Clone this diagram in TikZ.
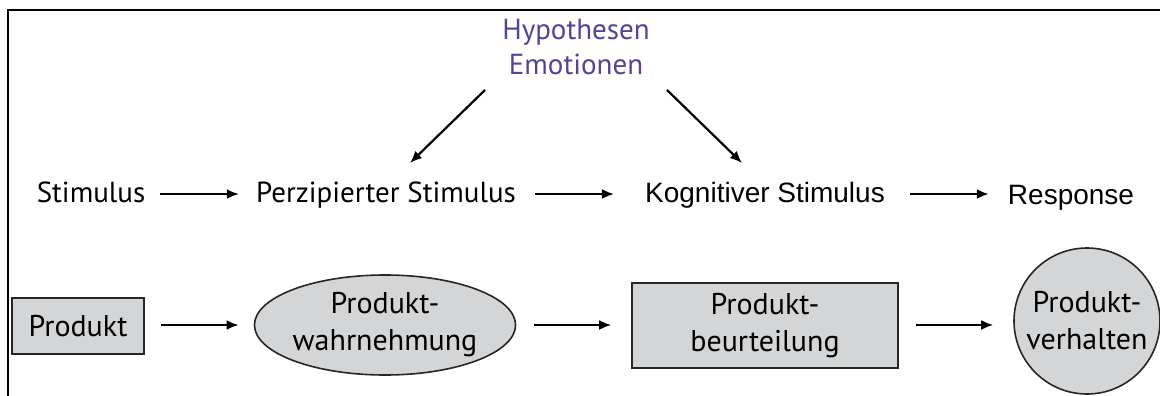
\documentclass[tikz,border=0pt]{standalone}
\usepackage{fontspec}
\setmainfont{PT Sans}
\newfontfamily\arialfont{Liberation Sans}
\usetikzlibrary{arrows.meta,shapes.geometric}
\definecolor{hypoviolet}{RGB}{78,70,150}
\definecolor{boxgray}{RGB}{212,213,215}
\begin{document}
\begin{tikzpicture}[x=1pt,y=-1pt,
  lbl/.style={inner sep=0pt,anchor=base,font=\fontsize{29}{34}\selectfont},
  lblarial/.style={lbl,font=\arialfont\fontsize{28}{34}\selectfont},
  arr/.style={line width=2.2pt,-{Latex[length=12pt,width=10pt]}},
  shp/.style={draw=black!85,line width=1.6pt,fill=boxgray,inner sep=0pt,
    align=center,font=\fontsize{30}{37}\selectfont}]
\useasboundingbox (0,0) rectangle (1160,396);
% frame
\draw[line width=1.5pt] (8,396) -- (8,10) -- (1160,10);
% row levels for the horizontal arrows
\coordinate (toprow) at (0,194);
\coordinate (botrow) at (0,325);
% influences
\node[lbl,text=hypoviolet] (hyp) at (576,40) {Hypothesen};
\node[lbl,text=hypoviolet] (emo) at (576,75) {Emotionen};
% top row: stimulus-response chain
\node[lbl] (stim) at (91,202) {Stimulus};
\node[lbl] (perz) at (386,202) {Perzipierter Stimulus};
\node[lblarial] (kog) at (765,202) {Kognitiver Stimulus};
\node[lblarial] (resp) at (1071,204) {Response};
\coordinate (hl) at (485,90);
\coordinate (hr) at (667,90);
\coordinate (pt) at (410,163);
\coordinate (kt) at (742,163);
\draw[arr] (hl) -- (pt);
\draw[arr] (hr) -- (kt);
\draw[arr] ([xshift=15pt]stim.east |- toprow) -- ([xshift=-17pt]perz.west |- toprow);
\draw[arr] ([xshift=19pt]perz.east |- toprow) -- ([xshift=-31pt]kog.west |- toprow);
\draw[arr] ([xshift=25pt]kog.east |- toprow) -- ([xshift=-19pt]resp.west |- toprow);
% bottom row: product chain
\node[shp,rectangle,minimum width=132pt,minimum height=56pt] (prod) at (78,326) {Produkt};
\node[shp,ellipse,minimum width=260pt,minimum height=100pt] (wahr) at (385,325) {Produkt-\\wahrnehmung};
\node[shp,rectangle,minimum width=266pt,minimum height=85pt] (beur) at (765,325.5) {Produkt-\\beurteilung};
\node[shp,circle,minimum size=146pt] (verh) at (1087,321) {Produkt-\\verhalten};
\draw[arr] ([xshift=16pt]prod.east |- botrow) -- ([xshift=-15pt]wahr.west |- botrow);
\draw[arr] ([xshift=18pt]wahr.east |- botrow) -- ([xshift=-20pt]beur.west |- botrow);
\draw[arr] ([xshift=17pt]beur.east |- botrow) -- ([xshift=-20pt]verh.west |- botrow);
\end{tikzpicture}
\end{document}
